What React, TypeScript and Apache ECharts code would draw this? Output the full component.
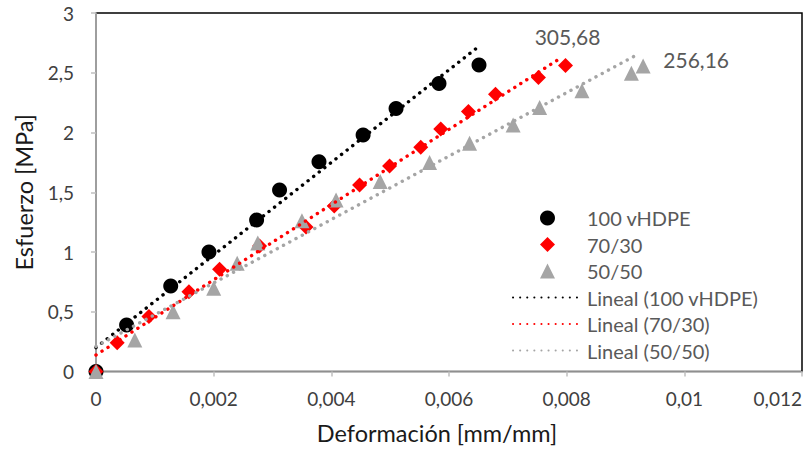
import React, { useEffect, useRef } from "react";
import * as echarts from "echarts";

const seriesNames = ["100 vHDPE", "70/30", "50/50"];
const trendNames = ["Lineal (100 vHDPE)", "Lineal (70/30)", "Lineal (50/50)"];

const vhdpe100: [number, number][] = [
  [0, 0], [0.00052, 0.39], [0.00127, 0.715], [0.00192, 1.0], [0.00273, 1.268],
  [0.00312, 1.519], [0.00379, 1.756], [0.00454, 1.98], [0.0051, 2.2],
  [0.00583, 2.41], [0.00651, 2.565],
];
const mix7030: [number, number][] = [
  [0, 0], [0.00036, 0.24], [0.0009, 0.46], [0.00158, 0.668], [0.0021, 0.855],
  [0.00278, 1.05], [0.00357, 1.21], [0.00405, 1.385], [0.00448, 1.56],
  [0.00499, 1.72], [0.00552, 1.876], [0.00586, 2.03], [0.00633, 2.175],
  [0.00679, 2.32], [0.00752, 2.46], [0.00798, 2.56],
];
const mix5050: [number, number][] = [
  [0, 0], [0.00066, 0.263], [0.00131, 0.5], [0.002, 0.696], [0.0024, 0.905],
  [0.00275, 1.075], [0.0035, 1.262], [0.00408, 1.435], [0.00483, 1.59],
  [0.00567, 1.75], [0.00635, 1.91], [0.00709, 2.063], [0.00754, 2.21],
  [0.00826, 2.35], [0.0091, 2.495], [0.0093, 2.556],
];

const trend100: [number, number][] = [[0, 0.2], [0.00648, 2.71]];
const trend7030: [number, number][] = [[0, 0.138], [0.00792, 2.63]];
const trend5050: [number, number][] = [[0, 0.21], [0.00923, 2.66]];

const endLabels = ["305,68", "256,16"];

const FONT = "Lato, 'Liberation Sans', sans-serif";
const DIAMOND = "path://M0,-1L1,0L0,1L-1,0Z";
const TRIANGLE = "path://M0,-1L1,1L-1,1Z";

export default function App() {
  const ref = useRef<HTMLDivElement>(null);
  useEffect(() => {
    if (!ref.current) return;
    const chart = echarts.init(ref.current, null, { renderer: "svg" });
    const fmt = (v: number) => String(Number(v.toFixed(4))).replace(".", ",");
    const dotStyle = (color: string) => ({
      color,
      width: 3.4,
      type: [0.1, 7] as number[],
      cap: "round" as const,
    });
    const withEndLabel = (
      data: [number, number][],
      text: string,
      offset: [number, number]
    ) =>
      data.map((d, i) =>
        i === data.length - 1
          ? {
              value: d,
              label: {
                show: true,
                position: "inside",
                offset,
                formatter: text,
                fontFamily: FONT,
                fontSize: 21,
                color: "#595959",
              },
            }
          : { value: d }
      );
    chart.setOption({
      animation: false,
      grid: {
        left: 96,
        right: 9,
        top: 13,
        bottom: 83.5,
        show: true,
        borderColor: "#000",
        borderWidth: 1.5,
        outerBoundsMode: "none",
        containLabel: false,
      },
      legend: {
        orient: "vertical",
        left: 512,
        top: 208,
        padding: 0,
        itemWidth: 69,
        itemHeight: 15,
        itemGap: 6.5,
        selectedMode: false,
        textStyle: { fontFamily: FONT, fontSize: 20, color: "#595959", lineHeight: 20 },
        data: [
          { name: seriesNames[0], icon: "circle" },
          { name: seriesNames[1], icon: DIAMOND },
          { name: seriesNames[2], icon: TRIANGLE },
          { name: trendNames[0], itemStyle: { opacity: 0 } },
          { name: trendNames[1], itemStyle: { opacity: 0 } },
          { name: trendNames[2], itemStyle: { opacity: 0 } },
        ],
      },
      xAxis: {
        type: "value",
        min: 0,
        max: 0.012,
        interval: 0.002,
        name: "Deformación [mm/mm]",
        nameLocation: "middle",
        nameGap: 49,
        nameTextStyle: { fontFamily: FONT, fontSize: 23.5, color: "#1a1a1a", padding: [0, 24, 0, 0] },
        axisLine: { show: true, lineStyle: { color: "#bfbfbf", width: 1.5 } },
        axisTick: { show: true, inside: false, length: 5, lineStyle: { color: "#bfbfbf", width: 1.5 } },
        axisLabel: {
          formatter: fmt,
          fontFamily: FONT,
          fontSize: 19,
          color: "#404040",
          margin: 17,
          alignMaxLabel: "right",
        },
        splitLine: { show: false },
      },
      yAxis: {
        type: "value",
        min: 0,
        max: 3,
        interval: 0.5,
        name: "Esfuerzo [MPa]",
        nameLocation: "middle",
        nameGap: 60,
        nameTextStyle: { fontFamily: FONT, fontSize: 23.5, color: "#1a1a1a" },
        axisLine: { show: true, lineStyle: { color: "#bfbfbf", width: 1.5 } },
        axisTick: { show: true, inside: false, length: 5, lineStyle: { color: "#bfbfbf", width: 1.5 } },
        axisLabel: { formatter: fmt, fontFamily: FONT, fontSize: 19, color: "#404040", margin: 22 },
        splitLine: { show: false },
      },
      series: [
        {
          name: seriesNames[0],
          type: "scatter",
          symbol: "circle",
          symbolSize: 15,
          itemStyle: { color: "#000000", opacity: 1 },
          data: vhdpe100,
          z: 2,
        },
        {
          name: seriesNames[1],
          type: "scatter",
          symbol: "diamond",
          symbolSize: 15,
          itemStyle: { color: "#ff0000", opacity: 1 },
          data: withEndLabel(mix7030, endLabels[0], [2, -28.6]),
          z: 2,
        },
        {
          name: seriesNames[2],
          type: "scatter",
          symbol: "triangle",
          symbolSize: 15,
          itemStyle: { color: "#a5a5a5", opacity: 1 },
          data: withEndLabel(mix5050, endLabels[1], [53, -7]),
          z: 2,
        },
        {
          name: trendNames[0],
          type: "line",
          symbol: "none",
          lineStyle: dotStyle("#000000"),
          itemStyle: { color: "#000000" },
          data: trend100,
          z: 3,
        },
        {
          name: trendNames[1],
          type: "line",
          symbol: "none",
          lineStyle: dotStyle("#ff0000"),
          itemStyle: { color: "#ff0000" },
          data: trend7030,
          z: 3,
        },
        {
          name: trendNames[2],
          type: "line",
          symbol: "none",
          lineStyle: dotStyle("#a5a5a5"),
          itemStyle: { color: "#a5a5a5" },
          data: trend5050,
          z: 3,
        },
      ],
    });
    return () => chart.dispose();
  }, []);
  return <div ref={ref} style={{ width: 811, height: 455, position: "absolute", left: 0, top: 0 }} />;
}
